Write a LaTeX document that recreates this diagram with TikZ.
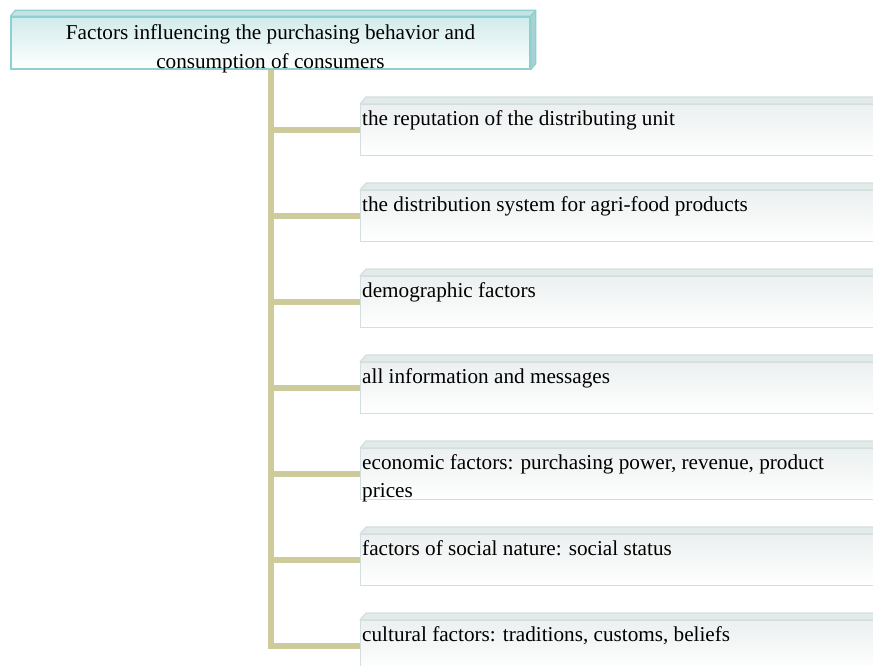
\documentclass[tikz,border=0pt]{standalone}
\usepackage{fontspec}
\setmainfont{Liberation Serif}
\definecolor{titleedge}{HTML}{8ECFCF}
\definecolor{titletop}{HTML}{D2EBEB}
\definecolor{titlefacetop}{HTML}{C4E4E4}
\definecolor{titlefaceside}{HTML}{A8D2D2}
\definecolor{childedge}{HTML}{D3DFDF}
\definecolor{childtop}{HTML}{ECF0F0}
\definecolor{childface}{HTML}{E3EAEA}
\definecolor{barcol}{HTML}{CDCB99}
\begin{document}
\begin{tikzpicture}[x=1pt,y=-1pt,
  barline/.style={draw=barcol, line width=6.5pt},
  titlebox/.style={draw=titleedge, line width=1.4pt, top color=titletop, bottom color=white,
    minimum width=519pt, minimum height=52pt, inner sep=0pt},
  titletext/.style={anchor=north, inner sep=0pt, align=center,
    font=\fontsize{21.2}{28.5}\selectfont},
  titleface/.style={draw=titleedge, line width=1.2pt, line join=round},
  childbox/.style={draw=childedge, line width=1.2pt, top color=childtop, bottom color=white,
    minimum width=520pt, minimum height=51pt, anchor=north west, inner sep=0pt},
  childfacestyle/.style={draw=childedge, fill=childface, line width=1.2pt, line join=round},
  childtext/.style={anchor=north west, inner sep=0pt, align=left,
    font=\fontsize{21.2}{28}\selectfont}]
\useasboundingbox (0,0) rectangle (873,665);

% heading block with its top and side faces
\node[titlebox] (title) at (270.5,43) {};
\filldraw[titleface, fill=titlefacetop] (title.north west) -- ++(5,-6)
  -- ([shift={(5,-6)}]title.north east) -- (title.north east) -- cycle;
\filldraw[titleface, fill=titlefaceside] (title.north east) -- ++(5,-6)
  -- ([shift={(5,-6)}]title.south east) -- (title.south east) -- cycle;
\node[titletext] (heading) at ([yshift=-8.5pt]title.north)
  {Factors influencing the purchasing behavior and\\consumption of consumers};

% the factor boxes
\foreach \i/\txt in {%
  1/{the reputation of the distributing unit},
  2/{the distribution system for agri-food products},
  3/{demographic factors},
  4/{all information and messages},
  5/{economic factors: purchasing power, revenue, product\\prices},
  6/{factors of social nature: social status},
  7/{cultural factors: traditions, customs, beliefs}}{
  \pgfmathsetmacro{\ytop}{104+86*(\i-1)}
  \node[childbox] (b\i) at (360,\ytop) {};
  \filldraw[childfacestyle] (b\i.north west) -- ++(6,-7)
    -- ([shift={(6,-7)}]b\i.north east) -- (b\i.north east) -- cycle;
  \node[childtext] (t\i) at ([shift={(2,6)}]b\i.north west) {\txt};
}

% spine and branches
\coordinate (spine) at ([xshift=0.5pt]title.south);
\foreach \i in {1,...,6}{
  \draw[barline] (spine |- b\i.west) -- (b\i.west);
}
\draw[barline, line join=miter] (spine) |- (b7.west);
\end{tikzpicture}
\end{document}
